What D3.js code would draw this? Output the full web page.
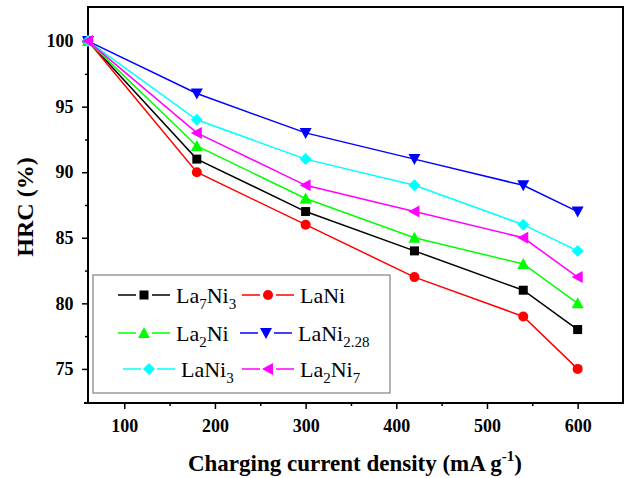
<!DOCTYPE html>
<html><head><meta charset="utf-8">
<script src="https://cdn.jsdelivr.net/npm/d3@7"></script>
<style>body{margin:0;background:#fff}svg{display:block}</style>
</head><body>
<script>
const xValues = [60, 180, 300, 420, 540, 600];
const seriesNames = ["La7Ni3", "LaNi", "La2Ni", "LaNi2.28", "LaNi3", "La2Ni7"];
const la7ni3 = [100, 91, 87, 84, 81, 78];
const lani = [100, 90, 86, 82, 79, 75];
const la2ni = [100, 92, 88, 85, 83, 80];
const lani228 = [100, 96, 93, 91, 89, 87];
const lani3 = [100, 94, 91, 89, 86, 84];
const la2ni7 = [100, 93, 89, 87, 85, 82];
const xTicks = [100, 200, 300, 400, 500, 600];
const yTicks = [75, 80, 85, 90, 95, 100];

// legend label parts: [text, isSub]
const labelParts = [
  [["La",0],["7",1],["Ni",0],["3",1]],
  [["LaNi",0]],
  [["La",0],["2",1],["Ni",0]],
  [["LaNi",0],["2.28",1]],
  [["LaNi",0],["3",1]],
  [["La",0],["2",1],["Ni",0],["7",1]]
];
const colors = ["#000000", "#ff0000", "#00ff00", "#0000ff", "#00ffff", "#ff00ff"];
const symbols = ["square", "circle", "up", "down", "diamond", "left"];
const allValues = [la7ni3, lani, la2ni, lani228, lani3, la2ni7];

const W = 629, H = 478;
const L = 88, R = 623, T = 7, B = 403;
const svg = d3.select("body").append("svg").attr("width", W).attr("height", H);
const x = d3.scaleLinear().domain([60, 650]).range([L, R]);
const y = d3.scaleLinear().domain([72.4, 102.6]).range([B, T]);

function marker(g, type, cx, cy, color) {
  let el;
  const s = 5.5;
  if (type === "square") el = g.append("rect").attr("x", cx - 4.5).attr("y", cy - 4.5).attr("width", 9).attr("height", 9);
  else if (type === "circle") el = g.append("circle").attr("cx", cx).attr("cy", cy).attr("r", 5);
  else {
    let pts;
    if (type === "up") pts = [[0,-s-0.5],[s+0.5,s-0.5],[-s-0.5,s-0.5]];
    else if (type === "down") pts = [[0,s+0.5],[s+0.5,-s+0.5],[-s-0.5,-s+0.5]];
    else if (type === "left") pts = [[-s-0.5,0],[s-0.5,-s-0.5],[s-0.5,s+0.5]];
    else pts = [[0,-s-0.5],[s+0.5,0],[0,s+0.5],[-s-0.5,0]];
    el = g.append("path").attr("d", "M" + pts.map(p => [cx + p[0], cy + p[1]].join(",")).join("L") + "Z");
  }
  el.attr("fill", color);
}

// axes
const fontTick = "'Liberation Serif','Times New Roman',serif";
const xAxis = d3.axisBottom(x).tickValues(xTicks).tickSize(6).tickFormat(d3.format("d"));
const gx = svg.append("g").attr("transform", `translate(0,${B})`).call(xAxis);
gx.select(".domain").remove();
gx.selectAll(".tick line").attr("stroke", "#000").attr("stroke-width", 1.5);
gx.selectAll("text").attr("font-family", fontTick).attr("font-weight", "bold").attr("font-size", 18).attr("fill", "#000").attr("dy", "1.1em");
const gxm = svg.append("g").attr("transform", `translate(0,${B})`)
  .call(d3.axisBottom(x).tickValues([150, 250, 350, 450, 550]).tickSize(3).tickFormat(""));
gxm.select(".domain").remove();
gxm.selectAll(".tick line").attr("stroke", "#000").attr("stroke-width", 1.5);

const yAxis = d3.axisLeft(y).tickValues(yTicks).tickSize(6).tickFormat(d3.format("d"));
const gy = svg.append("g").attr("transform", `translate(${L},0)`).call(yAxis);
gy.select(".domain").remove();
gy.selectAll(".tick line").attr("stroke", "#000").attr("stroke-width", 1.5);
gy.selectAll("text").attr("font-family", fontTick).attr("font-weight", "bold").attr("font-size", 18).attr("fill", "#000").attr("dx", "-0.3em");
const gym = svg.append("g").attr("transform", `translate(${L},0)`)
  .call(d3.axisLeft(y).tickValues([77.5, 82.5, 87.5, 92.5, 97.5]).tickSize(3).tickFormat(""));
gym.select(".domain").remove();
gym.selectAll(".tick line").attr("stroke", "#000").attr("stroke-width", 1.5);

// frame
svg.append("rect").attr("x", L).attr("y", T).attr("width", R - L).attr("height", B - T)
  .attr("fill", "none").attr("stroke", "#000").attr("stroke-width", 2);
svg.append("line").attr("x1", L - 4).attr("x2", L).attr("y1", B).attr("y2", B).attr("stroke", "#000").attr("stroke-width", 2);

// data
const line = d3.line().x(d => x(d[0])).y(d => y(d[1]));
allValues.forEach((vals, i) => {
  const g = svg.append("g");
  const pts = xValues.map((xv, j) => [xv, vals[j]]);
  g.append("path").attr("d", line(pts)).attr("fill", "none").attr("stroke", colors[i]).attr("stroke-width", 1.5);
  pts.forEach(p => marker(g, symbols[i], x(p[0]), y(p[1]), colors[i]));
});

// legend
svg.append("rect").attr("x", 93).attr("y", 275).attr("width", 297).attr("height", 118)
  .attr("fill", "#fff").attr("stroke", "#808080").attr("stroke-width", 1.2);
const legPos = [
  [118, 295], [242, 295],
  [118, 333], [240, 333],
  [123, 369], [242, 369]
];
labelParts.forEach((parts, i) => {
  const [lx, ly] = legPos[i];
  const g = svg.append("g");
  g.append("line").attr("x1", lx).attr("x2", lx + 52).attr("y1", ly).attr("y2", ly).attr("stroke", colors[i]).attr("stroke-width", 1.5);
  g.append("rect").attr("x", lx + 18).attr("y", ly - 7).attr("width", 16).attr("height", 14).attr("fill", "#fff");
  marker(g, symbols[i], lx + 26, ly, colors[i]);
  const t = g.append("text").attr("x", lx + 58).attr("y", ly + 8)
    .attr("font-family", fontTick).attr("font-size", 22).attr("fill", "#000");
  parts.forEach(p => {
    const ts = t.append("tspan").text(p[0]);
    if (p[1]) ts.attr("font-size", 15);
  });
  let cur = 0;
  t.selectAll("tspan").each(function(d, k) {
    const target = parts[k][1] ? 6 : 0;
    d3.select(this).attr("dy", target - cur);
    cur = target;
  });
});

// titles
svg.append("text").attr("x", 355).attr("y", 471).attr("text-anchor", "middle")
  .attr("font-family", fontTick).attr("font-weight", "bold").attr("font-size", 23).attr("fill", "#000")
  .call(t => {
    t.append("tspan").text("Charging current density (mA g");
    t.append("tspan").text("-1").attr("font-size", 15).attr("dy", -10);
    t.append("tspan").text(")").attr("dy", 10);
  });
svg.append("text").attr("transform", "translate(33,207) rotate(-90)").attr("text-anchor", "middle")
  .attr("font-family", fontTick).attr("font-weight", "bold").attr("font-size", 24).attr("fill", "#000")
  .text("HRC (%)");
</script>
</body></html>
